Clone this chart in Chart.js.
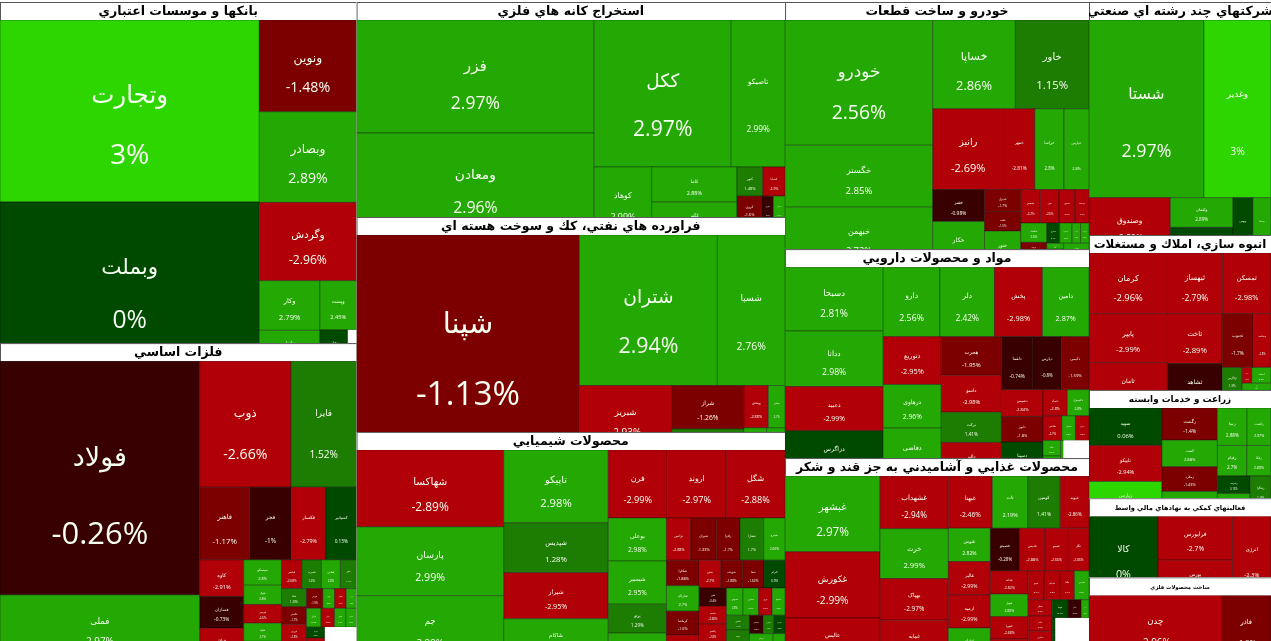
<!DOCTYPE html>
<html lang="fa">
<head>
<meta charset="UTF-8">
<title>نقشه بازار</title>
<script src="https://cdn.jsdelivr.net/npm/chart.js"></script>
<style>
  html, body { margin: 0; padding: 0; background: #fff; overflow: hidden; }
  canvas { display: block; }
</style>
</head>
<body>
<canvas id="map" width="1271" height="641"></canvas>
<script>
// sectors, biggest first
const sectorTitles = [
  'بانكها و موسسات اعتباري', 'فلزات اساسي', 'استخراج كانه هاي فلزي',
  'فراورده هاي نفتي، كك و سوخت هسته اي', 'محصولات شيميايي', 'خودرو و ساخت قطعات',
  'مواد و محصولات دارويي', 'محصولات غذايي و آشاميدني به جز قند و شكر',
  'شركتهاي چند رشته اي صنعتي', 'انبوه سازي، املاك و مستغلات', 'زراعت و خدمات وابسته',
  'فعاليتهاي كمكي به نهادهاي مالي واسط', 'ساخت محصولات فلزي'
];
const sectorSizes = [121.6, 106.2, 92.1, 92.1, 89.6, 75.1, 63.5, 55.6, 42.4, 28.2, 19.7, 14.4, 11.6];

// symbol sizes (market value), names and daily change
const bankNames = ['وتجارت', 'وبملت', 'ونوین', 'وبصادر', 'وگردش', 'وکار', 'وپاسار', 'وپست', 'وخاور', ''];
const bankPct = [3, 0, -1.48, 2.89, -2.96, 2.79, 2.9, 2.45, 0.2, null];
const bankSizes = [47.1, 41.2, 8.9, 8.8, 7.6, 3, 1.86, 1.8, 0.87, 0.27];

const metalNames = ['فولاد', 'فملی', 'ذوب', 'فایرا', 'فاهنر', 'فجر', 'فکسار', 'کسپانیر', 'کاوه', 'فسازان', 'فولاژ', 'سیسکو', 'فنوال', 'فروس', 'فلوله', 'فگل', 'فباهنر', 'فسرب', 'فخاس', 'ختور', 'فپنتا', 'فگستر', 'فزرین', 'فمحور', 'هرمز', 'فرود', 'فالوم', 'ورزا', 'فرآور', 'ذوبی', 'فناور', 'فسپا', 'کهرام', 'فمراد', 'فجهان', ''];
const metalPct = [-0.26, 2.97, -2.66, 1.52, -1.17, -1, -2.79, 0.13, -2.91, -0.73, -2.9, 2.8, 2.8, -2.6, 2.7, 2.6, -2.68, 1.4, 2.8, 1.4, 1.29, -1.7, -2.8, 2.7, -1.5, 2.8, -2.7, 2.6, 2.8, -2.8, 2.7, 2.6, 0.5, -2.9, 2.7, null];
const metalSizes = [46.3, 12.7, 11.4, 8.2, 3.6, 3, 2.5, 2.2, 1.6, 1.38, 1.35, 0.95, 0.72, 0.7, 0.68, 0.66, 0.58, 0.56, 0.54, 0.46, 0.45, 0.44, 0.44, 0.42, 0.32, 0.23, 0.23, 0.2, 0.27, 0.25, 0.21, 0.2, 0.2, 0.19, 0.19, 1];

const miningNames = ['فزر', 'ومعادن', 'ککل', 'تاصیکو', 'کوهاد', 'کاما', 'کگهر', 'کنور', 'کساپا', 'کروی', 'کمینا', 'کپرور', 'زنجان', 'کحافظ'];
const miningPct = [2.97, 2.96, 2.97, 2.99, 2.99, 2.88, 2.9, 1.48, -2.9, -1.6, 1.5, -0.6, 2.4, 2.5];
const miningSizes = [26.8, 24.2, 20.1, 7.9, 3.9, 3, 2.8, 0.75, 0.65, 0.62, 0.34, 0.3, 0.3, 0.3];

const oilNames = ['شپنا', 'شتران', 'شسپا', 'شبریز', 'شراز', 'شاوان', 'وپخش', 'سپاس', 'شنفت', 'شهران'];
const oilPct = [-1.13, 2.94, 2.76, -2.93, -1.26, 1.4, -2.88, 2.7, 2.6, 2.5];
const oilSizes = [47.5, 20.6, 10.1, 5.9, 3.1, 1.5, 1.03, 0.7, 0.5, 0.4];

const chemNames = ['شهاکسا', 'پارسان', 'جم', 'تاپیکو', 'شپدیس', 'شیراز', 'شاکام', 'فرن', 'اروند', 'شگل', 'بوعلی', 'شیمبیر', 'پرتو', 'جی پی', 'ترانس', 'شیران', 'رافزا', 'شفارا', 'شپترو', 'شکلرا', 'شاراک', 'کرماشا', 'شلعاب', 'شفن', 'شوینده', 'شفا', 'کترام', 'لخزر', 'شسم', 'پاکشو', 'شرنگی', 'شدوص', 'شکربن', 'نوری', 'شصفها', 'شملی', 'سپید', 'شتوکا', 'شبصیر', 'شبهرن', 'ساروم', 'شرانل', 'شجم', 'شفاف'];
const chemPct = [-2.89, 2.99, 2.99, 2.98, 1.28, -2.95, 2.97, -2.99, -2.97, -2.88, 2.98, 2.95, 1.29, 2.8, -2.88, -1.33, -1.7, 1.7, 2.66, -1.88, 2.7, -1.6, -2.7, -2.7, -1.88, -1.62, 0.9, -0.4, -2.68, -2.8, -2.6, 2.8, 2.7, -2.6, 2.6, 1.4, 1.3, 0.4, -0.5, 1.6, 0.5, 2.7, -1.6, 2.5];
const chemSizes = [11.3, 10.1, 9.3, 7.6, 5.2, 4.8, 4.2, 4, 4, 4, 2.5, 2.5, 1.68, 1.5, 1.03, 1.07, 1, 1, 0.9, 0.83, 0.83, 0.78, 0.78, 0.6, 0.6, 0.6, 0.58, 0.49, 0.49, 0.48, 0.48, 0.45, 0.42, 0.37, 0.35, 0.34, 0.34, 0.32, 0.25, 0.2, 0.2, 0.3, 0.3, 0.3];

const autoNames = ['خودرو', 'خگستر', 'خبهمن', 'خساپا', 'خاور', 'رانیز', 'خمهر', 'خراسا', 'خپارس', 'خفنر', 'خکار', 'خدیزل', 'خلنت', 'ختور', 'خنصیر', 'خزر', 'خمحور', 'خریخت', 'خکمک', 'خرینگ', 'خوساز', 'خشرق', 'خعمرا', 'خفولا', 'خمحرکه', 'خچرخش', 'ختوقا', 'خودران', 'خبنیان'];
const autoPct = [2.56, 2.85, 2.72, 2.86, 1.15, -2.69, -2.81, 2.8, 2.8, -0.98, 2.34, -1.7, -1.5, 2.9, -2.2, -2.6, -2.9, -2.8, 2.6, -1.6, -0.6, 0.4, 2.6, 2.5, 2.7, 2.6, 2.5, 2.4, 2.3];
const autoSizes = [18.4, 9.1, 8.8, 7.3, 6.5, 5.7, 2.5, 2.35, 2, 1.65, 2.35, 0.8, 0.7, 1.3, 0.65, 0.62, 0.53, 0.47, 0.5, 0.34, 0.3, 0.26, 0.25, 0.17, 0.17, 0.1, 0.3, 0.3, 0.3];

const drugNames = ['دسبحا', 'ددانا', 'دعبید', 'دزاگرس', 'دارو', 'دلر', 'پخش', 'دامین', 'دتوریع', 'درهاوی', 'دفاضی', 'هجرت', 'داسو', 'برکت', 'دالبر', 'دلقما', 'دپارس', 'دکیمی', 'دشیمی', 'دابور', 'دسینا', 'دتماد', 'دکپسول', 'دقاضی', 'سبحان', 'دیران', 'شفا', 'دفرا', 'دروز', 'دکوثر', ''];
const drugPct = [2.81, 2.98, -2.99, 0.2, 2.56, 2.42, -2.98, 2.87, -2.95, 2.96, 2.6, -1.95, -2.98, 1.41, -2.9, -0.74, -0.8, -1.59, -2.84, -1.8, 0.5, -2.8, 2.8, -2.7, 2.8, -2.8, 2.7, 2.6, 2.5, 2.4, null];
const drugSizes = [6.2, 5.4, 4.3, 4.4, 3.9, 3.75, 3.3, 3.2, 2.75, 2.5, 2.75, 2.3, 2.2, 1.8, 2, 1.65, 1.5, 1.45, 1.1, 1.05, 1.4, 0.63, 0.56, 0.46, 0.33, 0.33, 0.27, 0.2, 0.15, 0.1, 0.9];

const foodNames = ['غبشهر', 'غکورش', 'عالیس', 'غشهداب', 'خرت', 'بهپاک', 'غمایه', 'غبهنا', 'تات', 'کومین', 'غپونه', 'غنوش', 'غالبر', 'ازمیه', 'غشان', 'غصینو', 'غدیس', 'غمینو', 'غگل', 'غدانه', 'غبهار', 'غمهرا', 'غبرس', 'غپینو', 'غسالم', 'غگیلا', 'غفارس', 'غنیلی', 'غاذر', 'غمارس', 'غزر', 'غویتا', 'غدام', 'غشاذر', 'غلامر', ''];
const foodPct = [2.97, -2.99, -2.96, -2.94, 2.99, -2.97, -2.9, -2.46, 2.19, 1.41, -2.86, 2.82, -2.99, -2.99, 2.7, -0.28, -2.88, -2.66, -2.86, -2.82, 2.88, -2.88, -2.7, -2.7, -2.8, -2.7, 2.9, -2.6, -2.7, -2.6, 2.6, 0.4, -0.5, 2.6, 0.6, null];
const foodSizes = [7.2, 6.3, 3.9, 3.6, 3.4, 2.85, 2.65, 2.3, 1.85, 1.7, 1.5, 1.4, 1.4, 1.4, 1.3, 1.25, 1.07, 0.98, 0.9, 0.88, 0.85, 0.85, 0.75, 0.46, 0.46, 0.42, 0.42, 0.39, 0.37, 0.35, 0.32, 0.29, 0.24, 0.14, 0.13, 1.38];

const multiNames = ['شستا', 'وغدیر', 'وصندوق', 'ولقمان', 'وسپه', 'وبهمن', 'وصنا'];
const multiPct = [2.97, 3, -2.59, 2.89, 0.3, 0.3, 2.7];
const multiSizes = [20.4, 11.9, 4.5, 1.86, 1.6, 1.1, 1];

const buildNames = ['کرمان', 'پایپر', 'ثامان', 'ثبهساز', 'ثمسکن', 'ثاخت', 'ثشاهد', 'ثجنوب', 'وساخت', 'ثزاگرس', 'ثعمرا', 'ثنوسا', 'آسیاتک', 'ثرود', ''];
const buildPct = [-2.96, -2.99, -2.9, -2.79, -2.98, -2.89, -0.6, -1.7, -2.8, 1.3, -2.7, -2.8, 2.5, 2.6, null];
const buildSizes = [4.7, 3.8, 3.5, 3.3, 2.9, 2.7, 2.4, 1.65, 0.95, 0.5, 0.3, 0.15, 0.3, 0.2, 0.5];

const agriNames = ['سپید', 'تابیکو', 'زپارس', 'رگشت', 'کشت', 'زملارد', 'زماهان', 'زبینا', 'زکشت', 'زقیام', 'زفکا', 'زشریف', 'زدشت', 'زشگزا', 'زگلدشت'];
const agriPct = [0.06, -2.94, 3, -1.4, 2.88, -1.43, 2.7, 2.88, 2.97, 2.7, 2.88, 0.13, 2.4, 1.4, 2.5];
const agriSizes = [2.6, 2.5, 2.4, 1.7, 1.4, 1.3, 1.3, 1.06, 0.85, 0.85, 0.7, 0.55, 0.7, 0.6, 0.2];

const finNames = ['کالا', 'فرابورس', 'بورس', 'انرژی'];
const finPct = [0, -2.7, -2.9, -2.3];
const finSizes = [5.4, 3.25, 2.6, 3];

const fabNames = ['چدن', 'فاذر'];
const fabPct = [-2.96, -1.9];
const fabSizes = [8.3, 3.1];

const allNames = [bankNames, metalNames, miningNames, oilNames, chemNames, autoNames, drugNames, foodNames, multiNames, buildNames, agriNames, finNames, fabNames];
const allPct = [bankPct, metalPct, miningPct, oilPct, chemPct, autoPct, drugPct, foodPct, multiPct, buildPct, agriPct, finPct, fabPct];
const allSizes = [bankSizes, metalSizes, miningSizes, oilSizes, chemSizes, autoSizes, drugSizes, foodSizes, multiSizes, buildSizes, agriSizes, finSizes, fabSizes];

const PAGE_W = 1271, PAGE_H = 641, TOP = 2, HEADER = 18;
const PHI = (1 + Math.sqrt(5)) / 2;

// squarify with golden ratio target, works in axis units
function squarify(sizes, x, y, w, h, alwaysColumns) {
  const total = sizes.reduce((a, b) => a + b, 0);
  const vals = sizes.map(v => v / total * w * h);
  const out = [];
  let i = 0;
  while (i < vals.length) {
    const cols = alwaysColumns || w >= h;
    const side = cols ? h : w;
    const alpha = 1 / (side * side * PHI);
    let sum = vals[i], min = sum, max = sum, n = 1;
    let best = Math.max(max / (sum * sum * alpha), (sum * sum * alpha) / min);
    while (i + n < vals.length) {
      const v = vals[i + n];
      const s2 = sum + v, mn = Math.min(min, v), mx = Math.max(max, v);
      const beta = s2 * s2 * alpha;
      const r = Math.max(mx / beta, beta / mn);
      if (r > best) break;
      best = r; sum = s2; min = mn; max = mx; n++;
    }
    const thick = sum / side;
    let pos = cols ? y : x;
    for (let k = i; k < i + n; k++) {
      const len = vals[k] / thick;
      if (cols) out.push({ x0: x, x1: x + thick, y0: pos, y1: pos + len });
      else out.push({ x0: pos, x1: pos + len, y0: y, y1: y + thick });
      pos += len;
    }
    if (cols) { x += thick; w -= thick; } else { y += thick; h -= thick; }
    i += n;
  }
  return out;
}

function cellColor(p) {
  if (p === null) return '#ffffff';
  if (p >= 3) return '#2ed600';
  if (p >= 2) return '#24a804';
  if (p >= 1) return '#1d7d02';
  if (p >= 0) return '#004a00';
  if (p >= -1) return '#380000';
  if (p > -2) return '#7d0000';
  return '#b10008';
}

// one scatter dataset per sector, the cell centre is the point
const sectorBoxes = squarify(sectorSizes, 0, TOP, PAGE_W, PAGE_H - TOP, true);
const datasets = sectorBoxes.map((box, s) => {
  const w = box.x1 - box.x0, h = box.y1 - box.y0;
  const cells = squarify(allSizes[s], box.x0, box.y0 + HEADER, w, h, false);
  return {
    label: sectorTitles[s],
    box: box,
    pointRadius: 0,
    data: cells.map((c, i) => ({
      x: (c.x0 + c.x1) / 2, y: (c.y0 + c.y1) / 2,
      w: c.x1 - c.x0, h: c.y1 - c.y0,
      name: allNames[s][i], pct: allPct[s][i]
    }))
  };
});

const treemapPlugin = {
  id: 'treemap',
  afterDatasetsDraw(chart) {
    const ctx = chart.ctx, sx = chart.scales.x, sy = chart.scales.y;
    chart.data.datasets.forEach(ds => {
      const bx0 = sx.getPixelForValue(ds.box.x0), bx1 = sx.getPixelForValue(ds.box.x1);
      const by0 = sy.getPixelForValue(ds.box.y0), by1 = sy.getPixelForValue(ds.box.y1);
      const hdr = sy.getPixelForValue(ds.box.y0 + HEADER);

      // cells stay inside the sector, their overflow is cut by the next header
      ctx.save();
      ctx.beginPath();
      ctx.rect(bx0, hdr, bx1 - bx0, by1 - hdr);
      ctx.clip();
      ds.data.forEach(c => {
        const l = sx.getPixelForValue(c.x - c.w / 2), r = sx.getPixelForValue(c.x + c.w / 2);
        const t = sy.getPixelForValue(c.y - c.h / 2), b = sy.getPixelForValue(c.y + c.h / 2);
        ctx.fillStyle = cellColor(c.pct);
        ctx.fillRect(l, t, r - l, b - t);
        if (c.pct === null) return;
        ctx.strokeStyle = 'rgba(0,0,0,0.35)';
        ctx.lineWidth = 1;
        ctx.strokeRect(l, t, r - l, b - t);
        const size = Math.min(r - l, b - t);
        ctx.fillStyle = '#f6fff2';
        ctx.textAlign = 'center';
        ctx.textBaseline = 'middle';
        ctx.direction = 'rtl';
        ctx.font = size * 0.135 + 'px "DejaVu Sans"';
        ctx.fillText(c.name, (l + r) / 2, t + (b - t) * 0.42);
        ctx.direction = 'ltr';
        ctx.font = size * 0.155 + 'px "Open Sans"';
        ctx.fillText(c.pct + '%', (l + r) / 2, t + (b - t) * 0.745);
      });
      ctx.restore();

      // header bar
      ctx.save();
      ctx.beginPath();
      ctx.rect(bx0, by0, bx1 - bx0, hdr - by0);
      ctx.clip();
      ctx.fillStyle = '#ffffff';
      ctx.fillRect(bx0, by0, bx1 - bx0, hdr - by0);
      ctx.strokeStyle = '#555555';
      ctx.lineWidth = 1;
      ctx.strokeRect(bx0 + 0.5, by0 + 0.5, bx1 - bx0, hdr - by0 + 2);
      ctx.fillStyle = '#000000';
      ctx.textAlign = 'center';
      ctx.textBaseline = 'middle';
      ctx.direction = 'rtl';
      const root = Math.sqrt((bx1 - bx0) * (by1 - by0));
      ctx.font = 'bold ' + Math.min(12.5, root * 0.108 - 6.3) + 'px "DejaVu Sans"';
      ctx.fillText(ds.label, (bx0 + bx1) / 2, (by0 + hdr) / 2 + 1);
      ctx.restore();
    });
  }
};

new Chart(document.getElementById('map'), {
  type: 'scatter',
  data: { datasets: datasets },
  plugins: [treemapPlugin],
  options: {
    responsive: false,
    animation: false,
    devicePixelRatio: 1,
    layout: { padding: 0 },
    plugins: { legend: { display: false }, tooltip: { enabled: false } },
    scales: {
      x: { type: 'linear', min: 0, max: PAGE_W, display: false },
      y: { type: 'linear', min: 0, max: PAGE_H, reverse: true, display: false }
    }
  }
});
</script>
</body>
</html>
